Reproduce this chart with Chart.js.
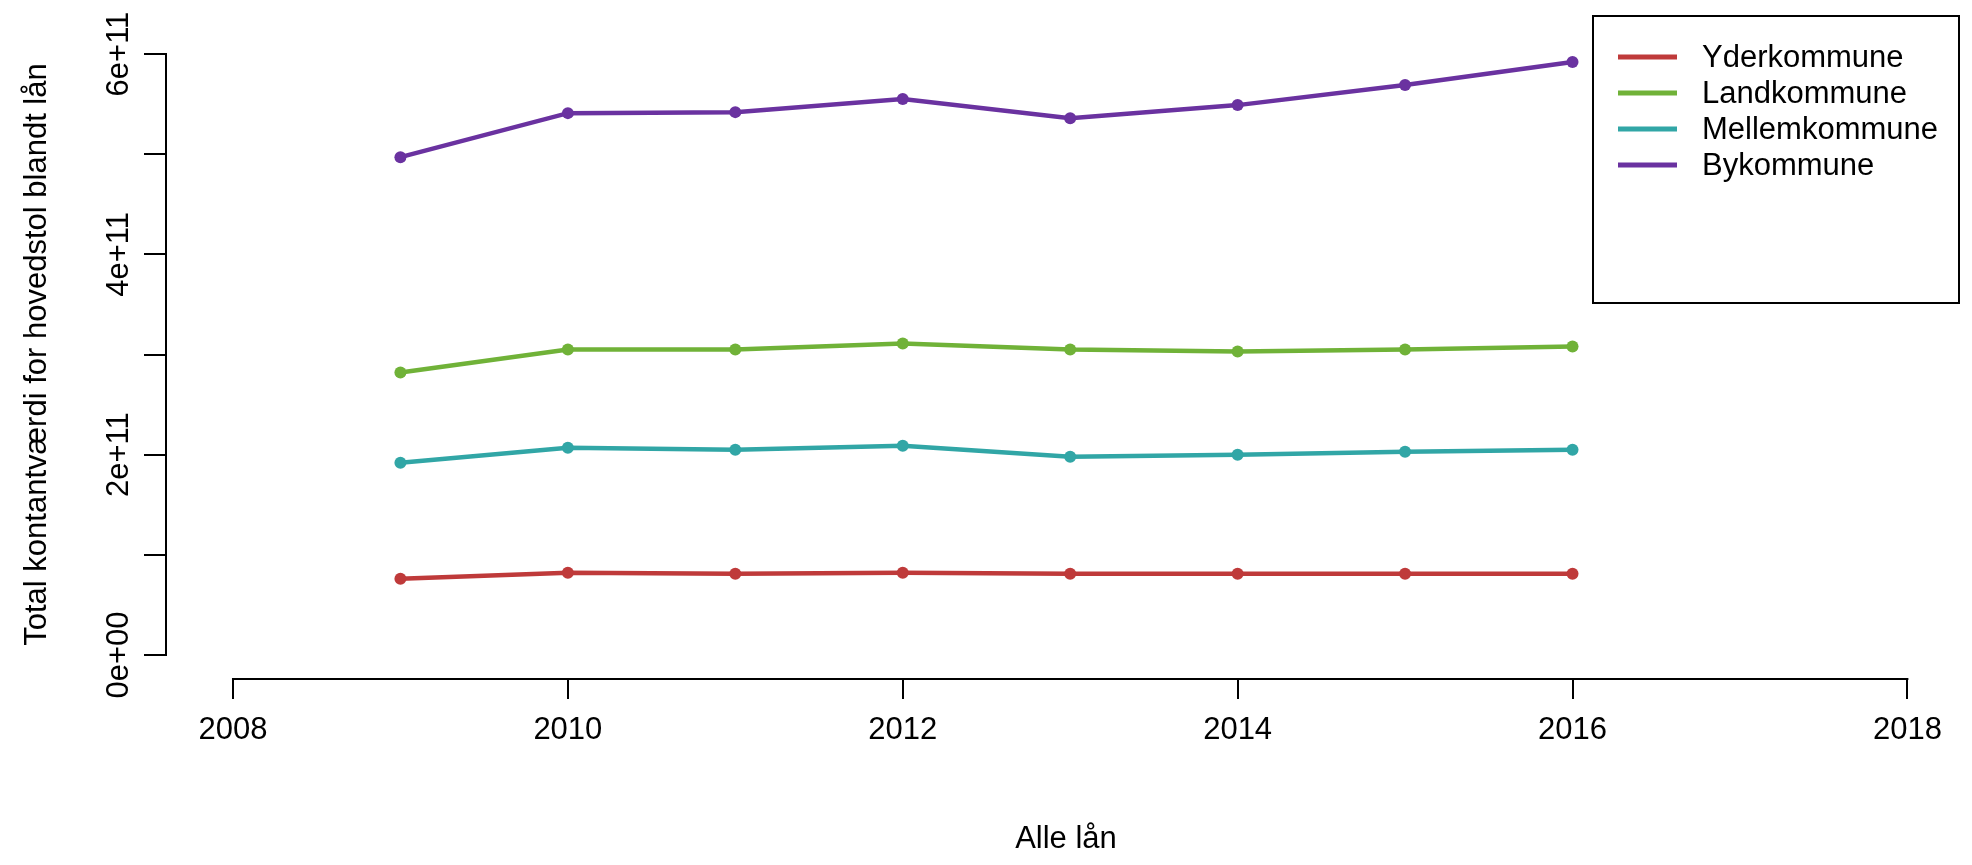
<!DOCTYPE html>
<html>
<head>
<meta charset="utf-8">
<title>Alle lån</title>
<script src="https://cdn.jsdelivr.net/npm/chart.js@4.4.0/dist/chart.umd.min.js"></script>
<style>
  html, body { margin: 0; padding: 0; background: #fff; }
  #wrap { width: 1972px; height: 865px; }
</style>
</head>
<body>
<div id="wrap"><canvas id="kommuneChart" width="1972" height="865"></canvas></div>
<script>
// Årstal og samlet kontantværdi pr. kommunetype
const years = [2009, 2010, 2011, 2012, 2013, 2014, 2015, 2016];
const yderkommune  = [0.76e11, 0.82e11, 0.81e11, 0.82e11, 0.81e11, 0.81e11, 0.81e11, 0.81e11];
const landkommune  = [2.82e11, 3.05e11, 3.05e11, 3.11e11, 3.05e11, 3.03e11, 3.05e11, 3.08e11];
const mellemkommune = [1.92e11, 2.07e11, 2.05e11, 2.09e11, 1.98e11, 2.00e11, 2.03e11, 2.05e11];
const bykommune    = [4.97e11, 5.41e11, 5.42e11, 5.55e11, 5.36e11, 5.49e11, 5.69e11, 5.92e11];

const seriesNames = ['Yderkommune', 'Landkommune', 'Mellemkommune', 'Bykommune'];
const seriesColors = ['#BF3A3A', '#70B238', '#31A6A6', '#6A32A0'];

const xTicks = [2008, 2010, 2012, 2014, 2016, 2018];
const yTicks = [0, 1e11, 2e11, 3e11, 4e11, 5e11, 6e11];
const yTickLabels = ['0e+00', '', '2e+11', '', '4e+11', '', '6e+11'];

const FONT = '"Liberation Sans", Arial, sans-serif';
Chart.defaults.font.family = FONT;
Chart.defaults.color = '#000';

function toPoints(values) {
  return values.map((v, i) => ({ x: years[i], y: v }));
}

const datasets = [yderkommune, landkommune, mellemkommune, bykommune].map((vals, i) => ({
  label: seriesNames[i],
  data: toPoints(vals),
  borderColor: seriesColors[i],
  backgroundColor: seriesColors[i],
  borderWidth: 4.5,
  pointRadius: 6,
  pointBorderWidth: 0,
  pointBackgroundColor: seriesColors[i],
  tension: 0,
  fill: false
}));

// base-graphics style axes (lines only span the tick range), rotated y labels and boxed legend
const baseAxes = {
  id: 'baseAxes',
  afterDraw(chart) {
    const { ctx, chartArea, scales: { x, y } } = chart;
    ctx.save();
    ctx.strokeStyle = '#000';
    ctx.lineWidth = 2;
    ctx.lineCap = 'square';

    const yb = chartArea.bottom;
    ctx.beginPath();
    ctx.moveTo(x.getPixelForValue(xTicks[0]), yb);
    ctx.lineTo(x.getPixelForValue(xTicks[xTicks.length - 1]), yb);
    ctx.stroke();

    const xl = chartArea.left;
    ctx.beginPath();
    ctx.moveTo(xl, y.getPixelForValue(yTicks[0]));
    ctx.lineTo(xl, y.getPixelForValue(yTicks[yTicks.length - 1]));
    ctx.stroke();

    ctx.fillStyle = '#000';
    ctx.font = '31px ' + FONT;
    ctx.textAlign = 'center';
    ctx.textBaseline = 'alphabetic';
    yTicks.forEach((v, i) => {
      if (!yTickLabels[i]) return;
      ctx.save();
      ctx.translate(128, y.getPixelForValue(v));
      ctx.rotate(-Math.PI / 2);
      ctx.fillText(yTickLabels[i], 0, 0);
      ctx.restore();
    });

    // legend
    const box = { left: 1593, top: 16, right: 1959, bottom: 303 };
    ctx.lineCap = 'butt';
    ctx.strokeRect(box.left, box.top, box.right - box.left, box.bottom - box.top);
    ctx.textAlign = 'left';
    ctx.textBaseline = 'middle';
    chart.data.datasets.forEach((ds, i) => {
      const rowY = 57 + i * 36;
      ctx.strokeStyle = ds.borderColor;
      ctx.lineWidth = 5;
      ctx.beginPath();
      ctx.moveTo(1618, rowY);
      ctx.lineTo(1677, rowY);
      ctx.stroke();
      ctx.fillStyle = '#000';
      ctx.fillText(ds.label, 1702, rowY + 1);
    });
    ctx.restore();
  }
};

new Chart(document.getElementById('kommuneChart'), {
  type: 'line',
  data: { datasets },
  options: {
    responsive: false,
    animation: false,
    layout: { padding: { top: 30, left: 0, right: 0, bottom: 0 } },
    plugins: {
      legend: { display: false },
      tooltip: { enabled: false }
    },
    scales: {
      x: {
        type: 'linear',
        position: 'bottom',
        min: 2007.6,
        max: 2018.35,
        afterBuildTicks: scale => { scale.ticks = xTicks.map(v => ({ value: v })); },
        afterFit: scale => { scale.height = 186; },
        grid: { drawOnChartArea: false, drawTicks: true, tickLength: 20, color: '#000', lineWidth: 2 },
        border: { display: false },
        ticks: {
          font: { size: 31 },
          color: '#000',
          padding: 13,
          maxRotation: 0,
          autoSkip: false,
          callback: v => String(v)
        },
        title: {
          display: true,
          text: 'Alle lån',
          font: { size: 31 },
          color: '#000',
          padding: { top: 0, bottom: 7 }
        }
      },
      y: {
        type: 'linear',
        position: 'left',
        min: -0.24e11,
        max: 6.24e11,
        afterBuildTicks: scale => { scale.ticks = yTicks.map(v => ({ value: v })); },
        afterFit: scale => { scale.width = 166; },
        grid: { drawOnChartArea: false, drawTicks: true, tickLength: 22, color: '#000', lineWidth: 2 },
        border: { display: false },
        ticks: { display: false },
        title: {
          display: true,
          text: 'Total kontantværdi for hovedstol blandt lån',
          font: { size: 31 },
          color: '#000',
          padding: { top: 19, bottom: 0 }
        }
      }
    }
  },
  plugins: [baseAxes]
});
</script>
</body>
</html>
